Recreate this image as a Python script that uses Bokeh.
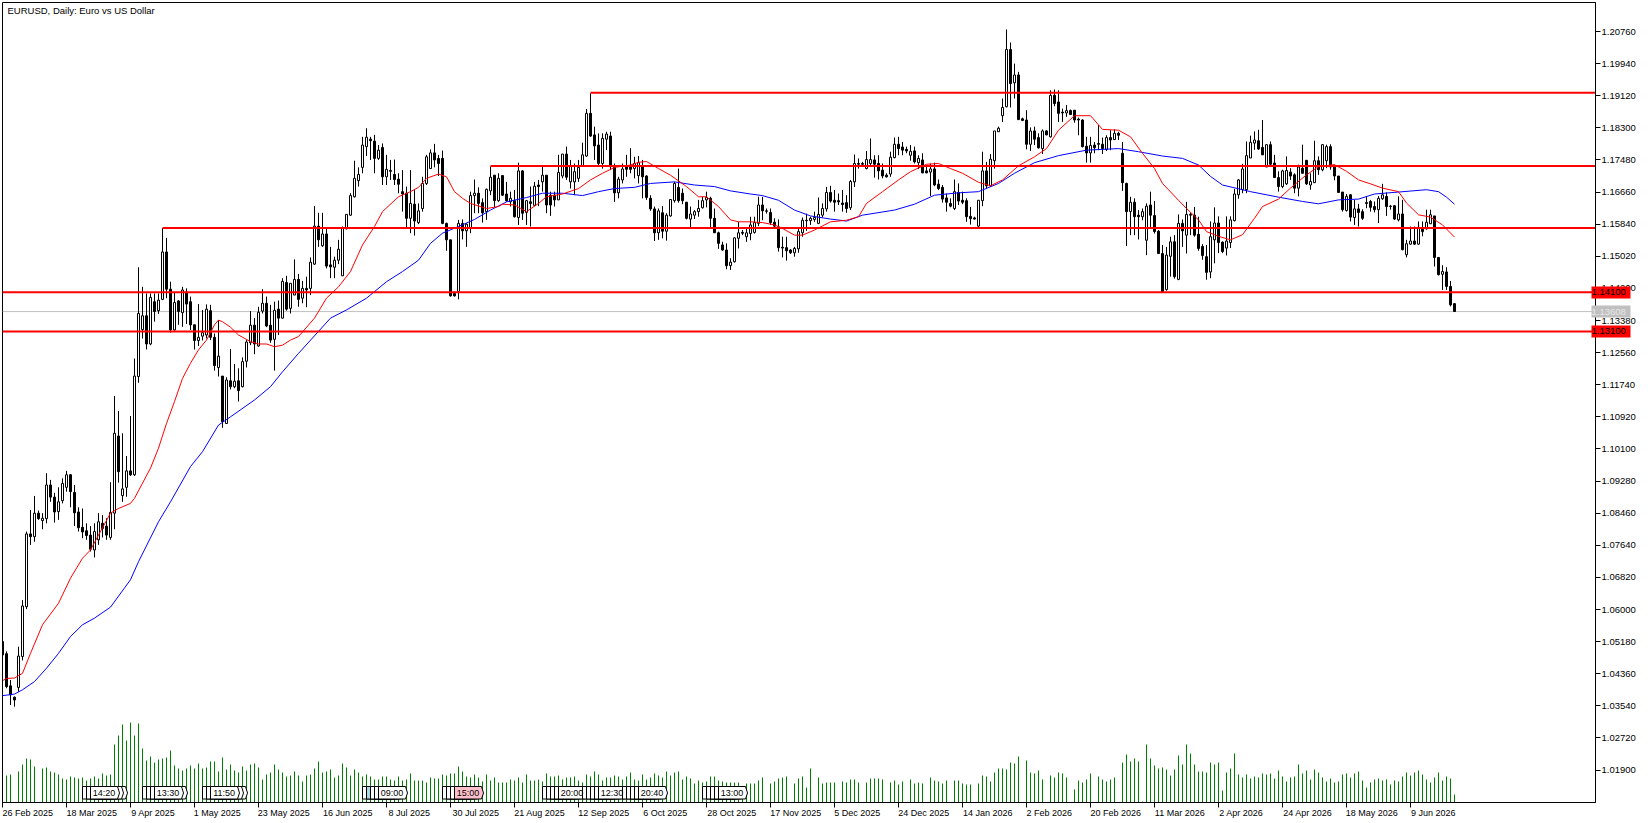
from bokeh.core.properties import value
from bokeh.embed import file_html
from bokeh.models import ColumnDataSource, CustomLabelingPolicy, FixedTicker, Label, LinearAxis, NumeralTickFormatter, Range1d
from bokeh.plotting import figure
from bokeh.resources import INLINE
import numpy as np

# candles, prices in 1/10000
highs = [
    10518,10493,10420,10378,10505,10624,10799,10854,10890,10853,
    10846,10948,10931,10898,10912,10935,10954,10946,10918,10861,
    10858,10820,10813,10820,10846,10841,10833,10925,11145,11107,
    11050,10992,11094,11241,11474,11424,11407,11407,11407,11407,
    11574,11549,11437,11409,11390,11424,11420,11399,11327,11380,
    11365,11379,11378,11305,11339,11196,11193,11265,11227,11216,
    11244,11288,11362,11344,11373,11418,11399,11378,11386,11389,
    11446,11452,11433,11494,11457,11439,11450,11499,11630,11613,
    11613,11573,11526,11501,11544,11578,11609,11663,11746,11729,
    11807,11829,11807,11812,11786,11790,11761,11748,11749,11714,
    11722,11680,11722,11671,11637,11705,11761,11775,11789,11761,
    11772,11588,11544,11412,11595,11596,11586,11667,11698,11678,
    11650,11675,11731,11709,11714,11709,11692,11667,11671,11741,
    11722,11646,11680,11692,11697,11735,11709,11667,11667,11761,
    11763,11782,11748,11739,11748,11792,11878,11918,11833,11816,
    11816,11820,11820,11739,11705,11739,11761,11778,11756,11758,
    11748,11709,11658,11629,11624,11630,11612,11647,11692,11726,
    11675,11641,11629,11620,11646,11654,11667,11654,11624,11565,
    11539,11535,11497,11550,11590,11569,11573,11603,11603,11654,
    11654,11624,11624,11599,11596,11552,11552,11520,11526,11576,
    11601,11611,11603,11616,11652,11637,11679,11682,11671,11662,
    11671,11658,11697,11762,11752,11743,11771,11803,11760,11760,
    11739,11714,11769,11805,11807,11794,11782,11786,11782,11760,
    11765,11731,11739,11741,11698,11684,11662,11650,11698,11688,
    11667,11650,11628,11603,11645,11769,11743,11763,11822,11833,
    11905,12081,12048,11994,11973,11856,11875,11831,11833,11816,
    11826,11824,11926,11928,11926,11879,11888,11877,11875,11856,
    11852,11807,11807,11794,11837,11805,11811,11824,11826,11820,
    11794,11690,11654,11650,11620,11624,11637,11667,11643,11569,
    11531,11526,11552,11556,11609,11596,11641,11613,11628,11603,
    11533,11531,11591,11627,11604,11540,11604,11604,11674,11699,
    11738,11795,11810,11821,11825,11850,11787,11795,11761,11719,
    11723,11757,11727,11714,11736,11787,11748,11714,11797,11757,
    11788,11787,11788,11736,11707,11666,11661,11661,11646,11636,
    11622,11653,11646,11642,11656,11687,11665,11633,11633,11655,
    11646,11544,11578,11578,11591,11591,11621,11621,11605,11500,
    11479,11474,11439,11382,
]
body_highs = [
    10518,10487,10405,10376,10481,10609,10793,10793,10846,10846,
    10833,10918,10918,10887,10875,10922,10944,10944,10899,10849,
    10810,10801,10790,10799,10824,10820,10813,10848,11050,11043,
    10908,10954,10954,11196,11356,11350,11350,11397,11386,11390,
    11513,11513,11418,11384,11388,11416,11410,11386,11327,11295,
    11307,11367,11363,11295,11247,11196,11186,11184,11183,11184,
    11233,11283,11326,11326,11359,11382,11382,11326,11364,11367,
    11438,11435,11433,11443,11443,11420,11420,11487,11579,11579,
    11559,11559,11480,11492,11520,11573,11609,11657,11701,11711,
    11786,11806,11801,11796,11773,11780,11724,11721,11711,11699,
    11667,11663,11637,11635,11618,11688,11756,11766,11766,11752,
    11752,11586,11544,11407,11586,11586,11584,11657,11663,11663,
    11639,11673,11704,11709,11701,11708,11661,11650,11644,11720,
    11720,11644,11641,11681,11684,11709,11709,11658,11658,11716,
    11763,11763,11732,11718,11729,11761,11867,11867,11812,11786,
    11803,11814,11809,11732,11699,11725,11732,11733,11739,11741,
    11732,11707,11650,11623,11618,11613,11607,11647,11688,11678,
    11663,11640,11610,11616,11624,11644,11652,11650,11599,11562,
    11531,11518,11487,11549,11562,11563,11562,11582,11588,11633,
    11633,11618,11614,11589,11577,11525,11524,11518,11522,11565,
    11594,11594,11599,11601,11609,11624,11665,11665,11645,11644,
    11638,11639,11693,11739,11739,11739,11749,11749,11748,11739,
    11722,11709,11755,11788,11788,11781,11775,11770,11771,11752,
    11748,11720,11725,11725,11686,11678,11651,11637,11667,11665,
    11645,11644,11604,11600,11645,11720,11720,11750,11822,11829,
    11882,12030,12030,11965,11965,11853,11850,11822,11822,11805,
    11822,11822,11913,11913,11896,11870,11874,11874,11875,11852,
    11850,11783,11785,11786,11790,11788,11805,11805,11816,11816,
    11765,11688,11640,11640,11607,11616,11630,11633,11606,11566,
    11509,11505,11539,11539,11586,11586,11609,11609,11607,11558,
    11527,11501,11552,11587,11587,11538,11541,11595,11661,11697,
    11725,11759,11793,11799,11797,11780,11787,11787,11740,11703,
    11720,11721,11717,11710,11730,11727,11747,11693,11746,11746,
    11787,11782,11782,11730,11707,11666,11655,11659,11623,11623,
    11616,11639,11642,11629,11650,11659,11655,11630,11631,11610,
    11610,11534,11541,11541,11576,11571,11589,11608,11605,11499,
    11463,11462,11425,11381,
]
body_lows = [
    10484,10403,10382,10369,10401,10480,10607,10786,10786,10832,
    10827,10832,10887,10849,10850,10878,10912,10901,10847,10809,
    10798,10789,10754,10752,10778,10807,10790,10784,10846,10952,
    10891,10912,10944,10944,11195,11315,11278,11278,11361,11363,
    11392,11418,11314,11314,11361,11358,11380,11327,11287,11287,
    11298,11301,11295,11223,11218,11080,11075,11169,11169,11159,
    11169,11234,11281,11278,11273,11362,11324,11288,11290,11344,
    11344,11367,11369,11403,11392,11395,11416,11420,11482,11544,
    11529,11477,11475,11474,11492,11452,11572,11607,11654,11695,
    11729,11782,11797,11752,11752,11705,11705,11719,11698,11686,
    11661,11599,11599,11592,11588,11624,11688,11726,11748,11739,
    11586,11544,11401,11401,11412,11567,11567,11573,11657,11637,
    11613,11616,11669,11644,11644,11658,11644,11641,11603,11601,
    11612,11614,11637,11632,11680,11692,11633,11633,11646,11646,
    11707,11704,11692,11692,11701,11732,11758,11809,11784,11739,
    11739,11801,11731,11664,11664,11697,11724,11724,11726,11708,
    11705,11652,11623,11562,11562,11566,11566,11605,11644,11644,
    11644,11599,11597,11607,11616,11626,11646,11599,11562,11535,
    11518,11478,11478,11488,11548,11561,11552,11560,11563,11586,
    11618,11617,11588,11579,11524,11523,11516,11511,11511,11521,
    11562,11593,11593,11596,11586,11607,11623,11643,11640,11641,
    11634,11624,11626,11692,11737,11737,11726,11739,11737,11720,
    11707,11705,11712,11754,11777,11773,11771,11760,11743,11741,
    11715,11715,11717,11684,11675,11648,11640,11630,11624,11643,
    11640,11603,11598,11597,11579,11644,11682,11682,11746,11820,
    11861,11884,11943,11945,11851,11849,11788,11788,11801,11779,
    11777,11812,11807,11892,11867,11868,11868,11864,11850,11850,
    11782,11766,11766,11779,11788,11777,11775,11799,11800,11811,
    11690,11616,11616,11603,11603,11603,11543,11607,11565,11509,
    11411,11417,11502,11450,11443,11567,11556,11607,11556,11522,
    11504,11461,11462,11544,11537,11514,11523,11537,11593,11659,
    11672,11672,11753,11791,11776,11761,11730,11737,11703,11680,
    11680,11687,11707,11676,11676,11714,11687,11684,11690,11723,
    11723,11746,11730,11707,11665,11621,11619,11602,11601,11614,
    11599,11637,11627,11621,11621,11649,11629,11629,11597,11595,
    11519,11506,11533,11533,11533,11565,11572,11585,11499,11455,
    11456,11425,11378,11361,
]
lows = [
    10484,10399,10356,10352,10390,10470,10601,10765,10773,10829,
    10805,10820,10875,10822,10829,10871,10901,10861,10813,10799,
    10782,10778,10748,10733,10765,10784,10778,10778,10805,10924,
    10875,10888,10941,10941,11179,11292,11264,11275,11335,11355,
    11390,11395,11307,11312,11327,11322,11329,11314,11264,11273,
    11287,11292,11288,11210,11195,11064,11074,11162,11165,11131,
    11167,11218,11275,11252,11271,11356,11321,11281,11210,11301,
    11343,11363,11356,11403,11373,11382,11372,11403,11480,11526,
    11526,11471,11446,11446,11482,11452,11571,11605,11652,11680,
    11714,11758,11748,11714,11748,11684,11684,11697,11684,11663,
    11616,11573,11561,11555,11584,11616,11684,11726,11729,11707,
    11584,11516,11399,11399,11392,11545,11526,11561,11612,11612,
    11588,11595,11658,11627,11641,11656,11641,11629,11601,11582,
    11595,11582,11578,11630,11630,11667,11612,11605,11629,11646,
    11701,11697,11675,11658,11692,11731,11756,11807,11748,11735,
    11726,11773,11722,11641,11650,11688,11705,11714,11701,11688,
    11650,11646,11618,11541,11544,11548,11542,11603,11639,11639,
    11635,11596,11575,11597,11603,11624,11627,11576,11562,11521,
    11516,11469,11467,11486,11522,11556,11539,11543,11560,11579,
    11594,11611,11582,11573,11514,11499,11491,11508,11501,11511,
    11552,11567,11582,11590,11584,11601,11616,11639,11616,11633,
    11616,11613,11620,11679,11726,11731,11724,11731,11703,11698,
    11701,11703,11705,11752,11760,11760,11765,11746,11739,11725,
    11714,11714,11656,11681,11671,11639,11616,11627,11620,11633,
    11635,11590,11583,11596,11576,11630,11675,11679,11726,11820,
    11845,11882,11882,11905,11850,11847,11775,11771,11786,11777,
    11763,11811,11805,11885,11845,11845,11858,11864,11843,11811,
    11780,11741,11741,11765,11773,11763,11771,11773,11799,11799,
    11669,11528,11556,11556,11545,11594,11505,11577,11560,11508,
    11411,11414,11450,11445,11441,11526,11509,11556,11552,11516,
    11493,11442,11446,11484,11510,11510,11504,11523,11591,11649,
    11663,11663,11753,11774,11774,11761,11730,11733,11703,11667,
    11676,11684,11697,11663,11655,11714,11684,11672,11689,11710,
    11719,11727,11723,11696,11665,11616,11616,11591,11582,11578,
    11595,11625,11616,11614,11587,11646,11605,11621,11595,11591,
    11517,11499,11531,11531,11531,11553,11570,11585,11476,11453,
    11416,11416,11374,11361,
]
# U = close above open, D = close below open
directions = (
    "DDDDUUUDUD" "UUDDUUUDDD" "DDDUUDDUUD" "UUDUUUDUDU" "UDDUDUDDDU"
    "UUDDUDUDUD" "UUUDUUDDUD" "UDUUDUDUUD" "UDDUUUUUUU" "UUDDUDUDDD"
    "DDUDUUUUDD" "DDDDUDUUUD" "DUUDUDDUDU" "DUDUDUDDDU" "UDUUUUUDDD"
    "UUDDUUDDUU" "DDDDUDUUUD" "DDUUUUUDDD" "DDUUUDUUUU" "DDDDDDDDUU"
    "UDUUUUUDDD" "DDUUDDUUDD" "DDUUDDDUDU" "DDUDDDDDUD" "DDDDUUDUUU"
    "UUDUDDDUDD" "UDUDDDUDDD" "DDUDDDUDUD" "DDUDDUUDDD" "DUUDUDUDDD"
    "DDUUDDUUUU" "UUUUDDUDDD" "UUDDUDDUUD" "UUDDDDUDUD" "DDDDUUDDDU"
    "DUUDUDUUDD" "UDDD"
)

# moving averages, vertices
fast_ma_bars = [
    0,1,3,5,7,10,14,17,20,22,24,27,29,32,33,37,39,41,43,45,47,49,51,53,54,55,57,59,62,64,66,68,70,72,74,
    78,81,84,87,90,93,95,99,102,104,106,109,111,113,115,117,121,124,125,128,131,134,136,140,144,147,150,153,157,159,161,164,167,171,174,176,179,182,184,
    187,190,193,195,198,200,203,207,211,214,216,220,224,227,231,234,237,240,244,247,250,254,258,261,264,268,272,275,279,282,285,288,290,294,296,
    299,301,304,307,310,313,315,319,322,326,329,333,336,339,342,345,349,351,354,357,360,363,
]
fast_ma = [
    10418,10424,10425,10437,10488,10561,10616,10680,10731,10752,10790,10846,10858,10871,10884,10961,11012,11075,11131,11190,11229,11263,11288,11327,11339,11335,11321,11301,11284,11278,11278,11271,11275,11288,11297,
    11344,11395,11424,11463,11531,11578,11616,11654,11667,11678,11701,11712,11705,11667,11650,11637,11624,11629,11635,11633,11616,11637,11654,11661,11675,11697,11714,11729,11735,11742,11744,11726,11709,11680,11654,11654,11629,11595,11590,
    11590,11588,11582,11573,11556,11556,11569,11590,11594,11603,11637,11667,11697,11718,11737,11739,11726,11714,11691,11682,11697,11733,11756,11777,11824,11861,11861,11826,11824,11807,11765,11726,11688,11645,11624,
    11595,11565,11553,11544,11557,11599,11629,11648,11676,11710,11731,11736,11719,11697,11687,11676,11667,11638,11608,11602,11582,11551,
]
slow_ma_bars = [
    0,3,5,8,11,14,17,20,23,27,32,34,39,42,47,50,54,57,63,67,70,74,
    82,86,91,96,100,104,107,110,114,118,122,126,131,135,140,145,149,153,158,162,168,173,178,182,
    187,190,194,198,202,207,211,215,223,228,233,239,244,249,253,258,264,271,279,284,290,295,299,
    302,305,312,319,325,329,334,339,343,349,356,359,361,363,
]
slow_ma = [
    10380,10384,10395,10416,10450,10488,10531,10561,10578,10606,10676,10722,10824,10875,10965,11003,11071,11092,11135,11169,11207,11254,
    11344,11365,11395,11437,11463,11492,11535,11561,11578,11596,11620,11641,11652,11663,11663,11657,11667,11675,11678,11688,11692,11684,11680,11669,
    11661,11657,11645,11620,11605,11597,11592,11607,11620,11635,11658,11664,11667,11688,11714,11741,11759,11773,11777,11769,11758,11752,11735,
    11706,11684,11667,11653,11642,11636,11646,11648,11661,11666,11672,11667,11653,11635,
]

volumes = [
    0,27,28,0,31,38,44,43,36,0,34,35,31,30,28,24,23,26,25,24,
    25,22,24,26,24,29,27,28,58,67,78,62,80,67,79,54,42,46,40,43,
    44,45,52,37,34,32,34,37,34,39,34,35,41,41,31,45,33,38,32,30,
    36,32,38,39,35,23,28,30,38,33,30,26,27,31,27,21,27,28,34,41,
    30,31,33,25,27,39,35,27,33,30,26,28,26,23,23,26,26,23,22,26,
    22,23,29,22,22,22,20,25,24,24,28,27,29,29,36,31,26,25,28,25,
    21,28,22,25,20,20,20,23,22,25,20,28,22,22,23,21,29,26,26,27,
    23,25,25,26,22,20,28,26,31,28,22,25,25,27,26,23,26,30,23,22,
    28,23,25,29,27,25,31,27,30,31,23,26,24,19,22,20,21,26,26,22,
    21,20,20,20,20,15,19,19,19,22,25,0,19,21,24,25,26,0,19,24,
    26,15,34,0,25,19,20,20,20,0,21,20,23,23,20,0,20,24,24,24,
    23,0,20,22,18,21,0,23,19,20,19,0,25,22,21,19,22,0,22,22,
    19,18,18,0,19,27,26,21,30,34,34,33,40,39,46,0,42,30,29,32,
    23,0,27,25,30,29,25,0,13,22,20,23,29,0,26,23,21,23,25,0,
    40,48,41,44,41,1,58,44,37,34,35,33,27,33,47,38,58,49,38,31,
    31,30,40,38,40,12,30,34,49,28,25,28,24,26,25,29,28,29,24,32,
    26,21,25,26,38,29,32,23,33,30,25,21,24,20,21,28,29,25,29,31,
    22,15,20,23,24,22,23,18,22,21,26,30,27,30,32,28,23,20,25,30,
    22,26,24,8,
]

# price levels: value and the bar each one starts from
level_prices = [1.19197, 1.17327, 1.15745, 1.14100, 1.13100]
level_start_bars = [147, 122, 40, 0, 0]
level_tag_prices = [1.14100, 1.13100]
bid_price = 1.13608

price_ticks = [
    1.2076, 1.1994, 1.1912, 1.1830, 1.1748, 1.1666, 1.1584, 1.1502, 1.1420, 1.1338, 1.1256, 1.1174,
    1.1092, 1.1010, 1.0928, 1.0846, 1.0764, 1.0682, 1.0600, 1.0518, 1.0436, 1.0354, 1.0272, 1.0190,
]
date_labels = [
    "26 Feb 2025", "18 Mar 2025", "9 Apr 2025", "1 May 2025", "23 May 2025", "16 Jun 2025",
    "8 Jul 2025", "30 Jul 2025", "21 Aug 2025", "12 Sep 2025", "6 Oct 2025", "28 Oct 2025",
    "17 Nov 2025", "5 Dec 2025", "24 Dec 2025", "14 Jan 2026", "2 Feb 2026", "20 Feb 2026",
    "11 Mar 2026", "2 Apr 2026", "24 Apr 2026", "18 May 2026", "9 Jun 2026",
]
date_bars = list(range(0, 16 * len(date_labels), 16))

# calendar flags along the bottom, later ones are drawn over earlier ones
flag_bars = [24,23,20,21,22, 39,35,36,37,38, 54,53,50,51,52, 90,91,92,93,94, 110,111,112,113,
             135,136,137,138,139, 145,146,147,148,149, 155,156,157,158,159, 175,176,177,178,179]
flag_texts = {22: "14:20", 38: "13:30", 52: "11:50", 94: "09:00", 113: "15:00",
              139: "20:00", 149: "12:30", 159: "20:40", 179: "13:00"}
flag_fills = ["white"] * len(flag_bars)
flag_fills[flag_bars.index(91)] = "#ADD8E6"
flag_fills[flag_bars.index(113)] = "#FFC0CB"

FONT = "Liberation Sans"
FRAME_LEFT, FRAME_TOP = 2, 2
FRAME_W, FRAME_H = 1593, 800
BAR_PX = 4
PRICE_PX = 3916

x_start = 0
x_end = x_start + FRAME_W / BAR_PX
y_end = 1.2076 + (31 - FRAME_TOP) / PRICE_PX
y_start = y_end - FRAME_H / PRICE_PX

p = figure(
    frame_width=FRAME_W, frame_height=FRAME_H, output_backend="svg", toolbar_location=None,
    x_range=Range1d(x_start, x_end), y_range=Range1d(y_start, y_end),
    x_axis_location=None, y_axis_location=None,
    min_border_left=FRAME_LEFT, min_border_top=FRAME_TOP, min_border_right=50, min_border_bottom=19,
    background_fill_color="white", border_fill_color="white",
)
p.grid.visible = False
p.outline_line_color = "black"
p.extra_y_ranges = {"volume": Range1d(0, FRAME_H)}

# axes
right = LinearAxis(ticker=FixedTicker(ticks=price_ticks), formatter=NumeralTickFormatter(format="0.00000"))
right.major_tick_out = 5
right.major_tick_in = 0
right.major_label_standoff = 1
right.major_label_text_font = FONT
right.major_label_text_font_size = "9.5px"
right.major_label_text_color = "black"
right.axis_line_color = "black"
right.major_tick_line_color = "black"
p.add_layout(right, "right")


# price tags: thick ticks pulled back over the price labels, with the label on top
def tag_axis(prices, fill, text_color):
    axis = LinearAxis(ticker=FixedTicker(ticks=prices), formatter=NumeralTickFormatter(format="0.00000"))
    axis.axis_line_color = None
    axis.major_tick_line_color = fill
    axis.major_tick_line_width = 12
    axis.major_tick_in = 47
    axis.major_tick_out = -8
    axis.major_label_standoff = -47
    axis.major_label_text_font = FONT
    axis.major_label_text_font_size = "9.5px"
    axis.major_label_text_color = text_color
    return axis


p.add_layout(tag_axis(level_tag_prices, "#FF0000", "black"), "right")
p.add_layout(tag_axis([bid_price], "#C0C0C0", "#E8E8E8"), "right")

# tick marks at the bars, no labels here
no_labels = CustomLabelingPolicy(code="for (const i of indices) indices.unset(i); return indices")
bottom = LinearAxis(ticker=FixedTicker(ticks=date_bars), major_label_policy=no_labels)
bottom.major_tick_out = 5
bottom.major_tick_in = 0
bottom.major_label_standoff = 0
bottom.major_label_text_font_size = "1px"
bottom.axis_line_color = "black"
bottom.major_tick_line_color = "black"
p.add_layout(bottom, "below")

# axis labels are centred on their tick while the dates start at it: second axis of
# labels only, its ticks set half a text width to the right of the bars
CHAR_PX = {" ": 2.5, "1": 5, "2": 5, "3": 5, "4": 5, "5": 5, "6": 5, "7": 5, "8": 5, "9": 5, "0": 5}
def date_width(text):
    return sum(CHAR_PX.get(c, 5.2) for c in text)

date_centres = [b + date_width(t) / 2 / BAR_PX for b, t in zip(date_bars, date_labels)]
date_axis = LinearAxis(ticker=FixedTicker(ticks=date_centres),
                       major_label_overrides=dict(zip(date_centres, date_labels)))
date_axis.major_tick_out = 0
date_axis.major_tick_in = 0
date_axis.axis_line_color = None
date_axis.major_tick_line_color = None
date_axis.major_label_standoff = -4
date_axis.major_label_text_font = FONT
date_axis.major_label_text_font_size = "9px"
date_axis.major_label_text_color = "black"
p.add_layout(date_axis, "below")

bars = np.arange(len(highs))

# volume histogram
p.segment(bars, 0, bars, volumes, line_color="#008000", line_width=1, y_range_name="volume")

# calendar flags
flag_xs = [[b, b + 6.75, b + 7.25, b + 6.75, b] for b in flag_bars]
flag_ys = [[3.5, 3.5, 9.5, 16, 16] for b in flag_bars]
p.patches(flag_xs, flag_ys, fill_color=flag_fills, line_color="black", line_width=1, y_range_name="volume")
text_bars = list(flag_texts)
p.text([b + 3.4 for b in text_bars], [9.5] * len(text_bars), text=list(flag_texts.values()), text_align="center",
       text_baseline="middle", text_font=value(FONT), text_font_size="9px", text_color="black",
       y_range_name="volume")

# current price line
p.segment(0, bid_price, x_end, bid_price, line_color="#C0C0C0", line_width=1)

# candles
candles = ColumnDataSource(dict(
    x=bars,
    high=np.array(highs) / 1e4,
    low=np.array(lows) / 1e4,
    top=np.array(body_highs) / 1e4,
    bottom=np.array(body_lows) / 1e4,
    fill=["white" if d == "U" else "black" for d in directions],
))
p.segment("x", "high", "x", "low", source=candles, line_color="black", line_width=1)
p.vbar("x", 0.5, "top", "bottom", source=candles, fill_color="fill", line_color="black", line_width=1)

# moving averages
p.line(slow_ma_bars, np.array(slow_ma) / 1e4, line_color="#0000FF", line_width=1)
p.line(fast_ma_bars, np.array(fast_ma) / 1e4, line_color="#FF0000", line_width=1)

# horizontal levels
p.segment(level_start_bars, level_prices, [x_end] * len(level_prices), level_prices, line_color="#FF0000", line_width=2)

p.add_layout(Label(x=7, y=10, x_units="canvas", y_units="canvas", text="EURUSD, Daily:  Euro vs US Dollar",
                   text_font=FONT, text_font_size="9.5px", text_color="black", text_baseline="middle"))

open("out.html", "w").write(file_html(p, INLINE))
